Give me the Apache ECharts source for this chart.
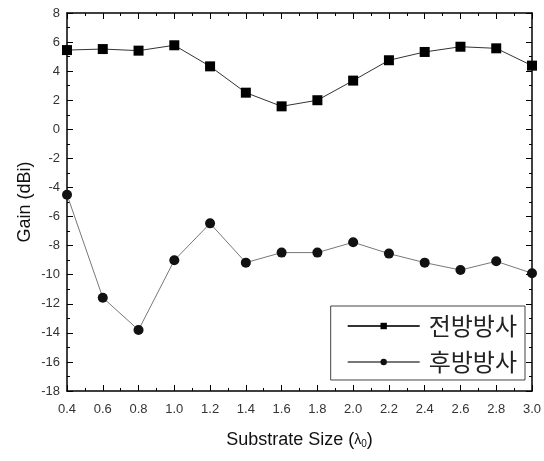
<!DOCTYPE html>
<html>
<head>
<meta charset="utf-8">
<script src="https://cdn.jsdelivr.net/npm/echarts@6/dist/echarts.min.js"></script>
<style>
  html, body { margin: 0; padding: 0; background: #fff; }
  #chart { width: 544px; height: 461px; }
</style>
</head>
<body>
<div id="chart"></div>
<script>
const sizes = [0.4, 0.6, 0.8, 1.0, 1.2, 1.4, 1.6, 1.8, 2.0, 2.2, 2.4, 2.6, 2.8, 3.0];
const frontGain = [5.45, 5.52, 5.41, 5.78, 4.33, 2.52, 1.58, 2.0, 3.35, 4.75, 5.32, 5.68, 5.57, 4.38];
const backGain = [-4.5, -11.58, -13.8, -9.01, -6.47, -9.17, -8.48, -8.48, -7.77, -8.55, -9.17, -9.68, -9.08, -9.9];
const seriesNames = ["전방방사", "후방방사"];

const font = "'Liberation Sans', Arial, sans-serif";
const chart = echarts.init(document.getElementById("chart"));

const tickStyle = { lineStyle: { color: "#000", width: 1 } };
const axisLine = { show: true, onZero: false, lineStyle: { color: "#000", width: 1.5 } };

chart.setOption({
  animation: false,
  textStyle: { fontFamily: font },
  grid: { left: 67, right: 12, top: 13, bottom: 70, outerBoundsMode: "none" },
  legend: {
    right: 19,
    top: 306,
    orient: "vertical",
    itemGap: 12,
    itemWidth: 72,
    itemHeight: 8,
    padding: [8, 8, 6, 16],
    borderColor: "#444",
    borderWidth: 1,
    textStyle: {
      fontFamily: "'Noto Sans CJK KR', sans-serif",
      fontSize: 24,
      color: "#222",
      padding: [0, 0, 0, 4],
    },
    data: seriesNames,
  },
  xAxis: [
    {
      type: "value",
      min: 0.4,
      max: 3.0,
      interval: 0.2,
      name: "Substrate Size ({l|λ}{s|0})",
      nameLocation: "middle",
      nameGap: 40,
      nameTextStyle: {
        fontSize: 18,
        color: "#111",
        rich: {
          l: { fontSize: 14, color: "#111" },
          s: { fontSize: 10, color: "#111", verticalAlign: "bottom", padding: [8, 0, 0, 0] },
        },
      },
      axisLine,
      axisTick: { inside: true, length: 6, ...tickStyle },
      minorTick: { show: true, splitNumber: 2, length: 3, ...tickStyle },
      splitLine: { show: false },
      axisLabel: {
        color: "#333",
        fontSize: 13,
        margin: 12,
        formatter: (v) => v.toFixed(1),
      },
    },
    {
      type: "value",
      position: "top",
      min: 0.4,
      max: 3.0,
      interval: 0.2,
      axisLine,
      axisTick: { inside: true, length: 6, ...tickStyle },
      minorTick: { show: true, splitNumber: 2, length: 3, ...tickStyle },
      splitLine: { show: false },
      axisLabel: { show: false },
    },
  ],
  yAxis: [
    {
      type: "value",
      min: -18,
      max: 8,
      interval: 2,
      name: "Gain (dBi)",
      nameLocation: "middle",
      nameGap: 33,
      nameMoveOverlap: false,
      nameTextStyle: { fontSize: 18, color: "#111" },
      axisLine,
      axisTick: { inside: true, length: 6, ...tickStyle },
      minorTick: { show: true, splitNumber: 2, length: 3, ...tickStyle },
      splitLine: { show: false },
      axisLabel: { color: "#333", fontSize: 13, margin: 7 },
    },
    {
      type: "value",
      position: "right",
      min: -18,
      max: 8,
      interval: 2,
      axisLine,
      axisTick: { inside: true, length: 6, ...tickStyle },
      minorTick: { show: true, splitNumber: 2, length: 3, ...tickStyle },
      splitLine: { show: false },
      axisLabel: { show: false },
    },
  ],
  series: [
    {
      name: seriesNames[0],
      type: "line",
      data: sizes.map((x, i) => [x, frontGain[i]]),
      symbol: "rect",
      symbolSize: 10,
      itemStyle: { color: "#000" },
      lineStyle: { color: "#333", width: 1 },
    },
    {
      name: seriesNames[1],
      type: "line",
      data: sizes.map((x, i) => [x, backGain[i]]),
      symbol: "circle",
      symbolSize: 10,
      itemStyle: { color: "#111" },
      lineStyle: { color: "#777", width: 1 },
    },
  ],
});
</script>
</body>
</html>
